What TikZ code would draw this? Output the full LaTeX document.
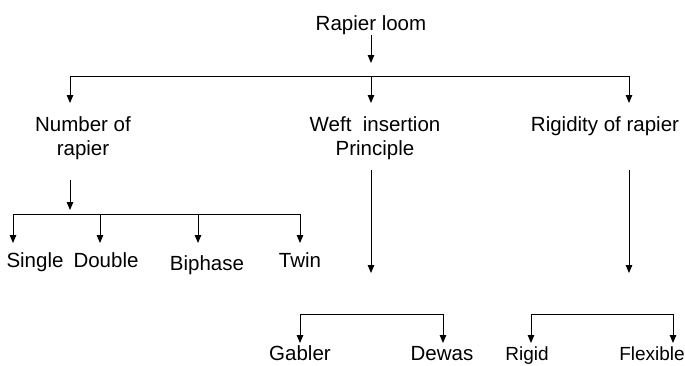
\documentclass[tikz,border=0pt]{standalone}
\usepackage{fontspec}
\setmainfont{Liberation Sans}
\usetikzlibrary{arrows.meta}
\begin{document}
\begin{tikzpicture}[x=1pt,y=-1pt,
  lbl/.style={anchor=base,inner sep=0pt,align=center,font=\fontsize{20.5}{24}\selectfont},
  small/.style={lbl,font=\fontsize{19}{22}\selectfont},
  conn/.style={line width=1pt},
  arr/.style={conn,-{Triangle[length=8pt,width=6.5pt]}}]
\useasboundingbox (0,0) rectangle (685,365);
% labels (multi-line nodes: base = last line)
\node[lbl] (root) at (371,30) {Rapier loom};
\node[lbl] (num)  at (83,155) {Number of\\rapier};
\node[lbl] (weft) at (375,155) {Weft~ insertion\\Principle};
\node[lbl] (rig)  at (605,131) {Rigidity of rapier};
\node[lbl] (single) at (35,267) {Single};
\node[lbl] (double) at (106,267) {Double};
\node[lbl] (biphase) at (207,270) {Biphase};
\node[lbl] (twin) at (300,267) {Twin};
\node[lbl] (gabler) at (300,360) {Gabler};
\node[lbl] (dewas) at (442,360) {Dewas};
\node[small] (rigid) at (527,360) {Rigid};
\node[small] (flex) at (652,360) {Flexible};
% coordinates
\coordinate (r0) at (371,35);
\coordinate (r1) at (371,63);
\coordinate (aL) at (70,76);
\coordinate (aM) at (371,76);
\coordinate (aR) at (629,76);
\coordinate (tNum) at (70,103);
\coordinate (tWeft) at (371,103);
\coordinate (tRig) at (629,103);
\coordinate (n0) at (70,180);
\coordinate (n1) at (70,210);
\coordinate (bS) at (13,214);
\coordinate (bD) at (100,214);
\coordinate (bB) at (198,214);
\coordinate (bT) at (300,214);
\coordinate (w0) at (371,170);
\coordinate (w1) at (371,273);
\coordinate (g0) at (629,170);
\coordinate (g1) at (629,273);
\coordinate (cG) at (300,314);
\coordinate (cD) at (443,314);
\coordinate (cR) at (531,314);
\coordinate (cF) at (673,314);
% connectors
\draw[arr] (r0) -- (r1);
\draw[conn] (aL) -- (aR);
\draw[arr] (aL) -- (tNum);
\draw[arr] (aM) -- (tWeft);
\draw[arr] (aR) -- (tRig);
\draw[arr] (n0) -- (n1);
\draw[conn] (bS) -- (bT);
\draw[arr] (bS) -- ++(0,29);
\draw[arr] (bD) -- ++(0,29);
\draw[arr] (bB) -- ++(0,29);
\draw[arr] (bT) -- ++(0,29);
\draw[arr] (w0) -- (w1);
\draw[arr] (g0) -- (g1);
\draw[conn] (cG) -- (cD);
\draw[arr] (cG) -- ++(0,29);
\draw[arr] (cD) -- ++(0,29);
\draw[conn] (cR) -- (cF);
\draw[arr] (cR) -- ++(0,29);
\draw[arr] (cF) -- ++(0,29);
\end{tikzpicture}
\end{document}
